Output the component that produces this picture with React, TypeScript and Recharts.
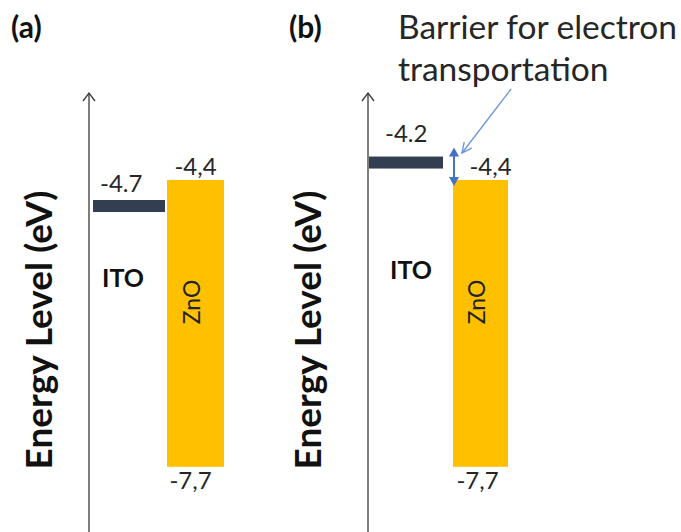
import React from 'react';
import { ComposedChart, XAxis, YAxis, ReferenceArea, ReferenceLine, ReferenceDot } from 'recharts';

// Energy levels (eV) for the two device configurations
const panelTags = ['(a)', '(b)'];
const itoWorkFunction = [-4.7, -4.2];
const znoConduction = [-4.4, -4.4];
const znoValence = [-7.7, -7.7];
const layerNames = ['ITO', 'ZnO'];
const axisTitle = 'Energy Level (eV)';
const barrierNote = ['Barrier for electron', 'transportation'];

const FONT = 'Lato, "Open Sans", sans-serif';
const ITO_COLOR = '#333F50';
const ZNO_COLOR = '#FFC000';
const TEXT_COLOR = '#262626';
const AXIS_COLOR = '#3a3a3a';
const ARROW_BLUE = '#4472C4';
const POINTER_BLUE = '#6F98DA';

const WIDTH = 681;
const HEIGHT = 532;
const AXIS_TOP = 93;
const AXIS_GUTTER = 89;
const Y_DOMAIN: [number, number] = [-8.45, -3.4];

const fmtDot = (v: number) => v.toFixed(1);
const fmtComma = (v: number) => v.toFixed(1).replace('.', ',');

// Horizontal placement of each panel (x in px measured from the energy axis)
const panelLayout = [
  {
    left: 0, width: 290, ito: [4, 76], zno: [78, 135],
    titleX: 52, itoValueDx: 7, itoValueGap: 8, itoNameDx: 9, itoNameDy: 81,
    cbDx: 0, vbDx: -5,
  },
  {
    left: 279, width: 402, ito: [1, 75], zno: [85, 140],
    titleX: 42, itoValueDx: 16, itoValueGap: 15, itoNameDx: 21, itoNameDy: 116,
    cbDx: 10, vbDx: -3,
  },
];

// Callout from the note to the barrier arrow (plot units: px from axis, eV)
const pointerFrom = { x: 143, y: -3.354 };
const pointerTo = { x: 94, y: -4.09 };
const barrierArrowX = 86;

const textBase = { fontFamily: FONT, fill: TEXT_COLOR } as const;

function AxisArrowHead(props: any) {
  const { cx, cy } = props;
  return (
    <path
      d={`M${cx - 6},${cy + 8} L${cx},${cy} L${cx + 6},${cy + 8}`}
      fill="none"
      stroke={AXIS_COLOR}
      strokeWidth={1.3}
    />
  );
}

function ItoLevel(props: any) {
  const { x1, y1, x2, text, name, layout } = props;
  const x = Math.min(x1, x2);
  const w = Math.abs(x2 - x1);
  return (
    <g>
      <rect x={x} y={y1 - 6} width={w} height={12} fill={ITO_COLOR} />
      <text {...textBase} x={x + layout.itoValueDx} y={y1 - 6 - layout.itoValueGap} fontSize={24}>
        {text}
      </text>
      <text {...textBase} x={x + layout.itoNameDx} y={y1 + layout.itoNameDy} fontSize={25} fontWeight="bold" fill="#111">
        {name}
      </text>
    </g>
  );
}

function ZnoBand(props: any) {
  const { x, y, width, height, cbText, vbText, name, layout } = props;
  const cx = x + width / 2;
  const nx = cx + 4.5;
  const ny = y + 122;
  return (
    <g>
      <rect x={x} y={y} width={width} height={height} fill={ZNO_COLOR} />
      <text
        {...textBase}
        x={nx}
        y={ny}
        fontSize={23}
        textAnchor="middle"
        fill="#222"
        transform={`rotate(-90, ${nx}, ${ny})`}
      >
        {name}
      </text>
      <text {...textBase} x={cx + layout.cbDx} y={y - 5} fontSize={24} textAnchor="middle">
        {cbText}
      </text>
      <text {...textBase} x={cx + layout.vbDx} y={y + height + 22} fontSize={24} textAnchor="middle">
        {vbText}
      </text>
    </g>
  );
}

function BarrierArrow(props: any) {
  const { x1, y1, y2 } = props;
  const top = Math.min(y1, y2) - 15;
  const bottom = Math.max(y1, y2) + 6;
  const hw = 5;
  const hl = 9;
  return (
    <g>
      <line x1={x1} y1={top + hl - 1} x2={x1} y2={bottom - hl + 1} stroke={ARROW_BLUE} strokeWidth={2} />
      <path d={`M${x1},${top} L${x1 - hw},${top + hl} L${x1 + hw},${top + hl} Z`} fill={ARROW_BLUE} />
      <path d={`M${x1},${bottom} L${x1 - hw},${bottom - hl} L${x1 + hw},${bottom - hl} Z`} fill={ARROW_BLUE} />
    </g>
  );
}

function Pointer(props: any) {
  const { x1, y1, x2, y2 } = props;
  const ang = Math.atan2(y2 - y1, x2 - x1);
  const len = 11;
  const spread = 0.45;
  const a1 = ang + Math.PI - spread;
  const a2 = ang + Math.PI + spread;
  return (
    <g stroke={POINTER_BLUE} strokeWidth={1.4} fill="none">
      <line x1={x1} y1={y1} x2={x2} y2={y2} />
      <path
        d={`M${x2 + len * Math.cos(a1)},${y2 + len * Math.sin(a1)} L${x2},${y2} L${x2 + len * Math.cos(a2)},${y2 + len * Math.sin(a2)}`}
      />
    </g>
  );
}

function Panel({ index }: { index: number }) {
  const layout = panelLayout[index];
  const wf = itoWorkFunction[index];
  const cb = znoConduction[index];
  const vb = znoValence[index];
  const plotWidth = layout.width - AXIS_GUTTER;
  const hasBarrier = wf > cb;
  const rows = [
    { layer: layerNames[0], level: wf },
    { layer: layerNames[1], low: vb, high: cb },
  ];

  const renderTitle = (p: any) => {
    const vbx = p.viewBox || { x: 0, y: AXIS_TOP, height: HEIGHT - AXIS_TOP };
    const tx = vbx.x + layout.titleX;
    const ty = vbx.y + 237;
    return (
      <text
        x={tx}
        y={ty}
        fontFamily={FONT}
        fontWeight="bold"
        fontSize={37}
        fill="#111"
        textAnchor="middle"
        transform={`rotate(-90, ${tx}, ${ty})`}
      >
        {axisTitle}
      </text>
    );
  };

  return (
    <div style={{ position: 'absolute', left: layout.left, top: 0 }}>
      <ComposedChart
        width={layout.width}
        height={HEIGHT}
        data={rows}
        margin={{ top: AXIS_TOP, right: 0, bottom: 0, left: 0 }}
      >
        <XAxis dataKey="pos" type="number" hide domain={[0, plotWidth]} allowDataOverflow />
        <YAxis
          dataKey="level"
          type="number"
          domain={Y_DOMAIN}
          allowDataOverflow
          width={AXIS_GUTTER}
          tick={false}
          tickLine={false}
          axisLine={{ stroke: AXIS_COLOR, strokeWidth: 1.3 }}
          label={renderTitle}
        />
        <ReferenceDot
          x={0}
          y={Y_DOMAIN[1]}
          ifOverflow="visible"
          shape={(p: any) => <AxisArrowHead {...p} />}
        />
        <ReferenceArea
          x1={layout.zno[0]}
          x2={layout.zno[1]}
          y1={vb}
          y2={cb}
          ifOverflow="visible"
          shape={(p: any) => (
            <ZnoBand {...p} cbText={fmtComma(cb)} vbText={fmtComma(vb)} name={layerNames[1]} layout={layout} />
          )}
        />
        <ReferenceLine
          segment={[{ x: layout.ito[0], y: wf }, { x: layout.ito[1], y: wf }]}
          ifOverflow="visible"
          shape={(p: any) => <ItoLevel {...p} text={fmtDot(wf)} name={layerNames[0]} layout={layout} />}
        />
        {hasBarrier && (
          <ReferenceLine
            segment={[{ x: barrierArrowX, y: wf }, { x: barrierArrowX, y: cb }]}
            ifOverflow="visible"
            shape={(p: any) => <BarrierArrow {...p} />}
          />
        )}
        {hasBarrier && (
          <ReferenceLine
            segment={[pointerFrom, pointerTo]}
            ifOverflow="visible"
            shape={(p: any) => <Pointer {...p} />}
          />
        )}
      </ComposedChart>
    </div>
  );
}

export default function App() {
  return (
    <div
      style={{
        position: 'absolute',
        left: 0,
        top: 0,
        width: WIDTH,
        height: HEIGHT,
        background: '#fff',
        overflow: 'hidden',
      }}
    >
      <Panel index={0} />
      <Panel index={1} />
      <svg
        width={WIDTH}
        height={HEIGHT}
        style={{ position: 'absolute', left: 0, top: 0, pointerEvents: 'none' }}
      >
        <text x={11} y={38} fontFamily={FONT} fontWeight="bold" fontSize={30} fill="#111">
          {panelTags[0]}
        </text>
        <text x={289} y={38} fontFamily={FONT} fontWeight="bold" fontSize={30} fill="#111">
          {panelTags[1]}
        </text>
        <text x={398} y={39} fontFamily={FONT} fontSize={33.5} fill={TEXT_COLOR}>
          {barrierNote[0]}
        </text>
        <text x={398} y={81} fontFamily={FONT} fontSize={33.5} fill={TEXT_COLOR}>
          {barrierNote[1]}
        </text>
      </svg>
    </div>
  );
}
